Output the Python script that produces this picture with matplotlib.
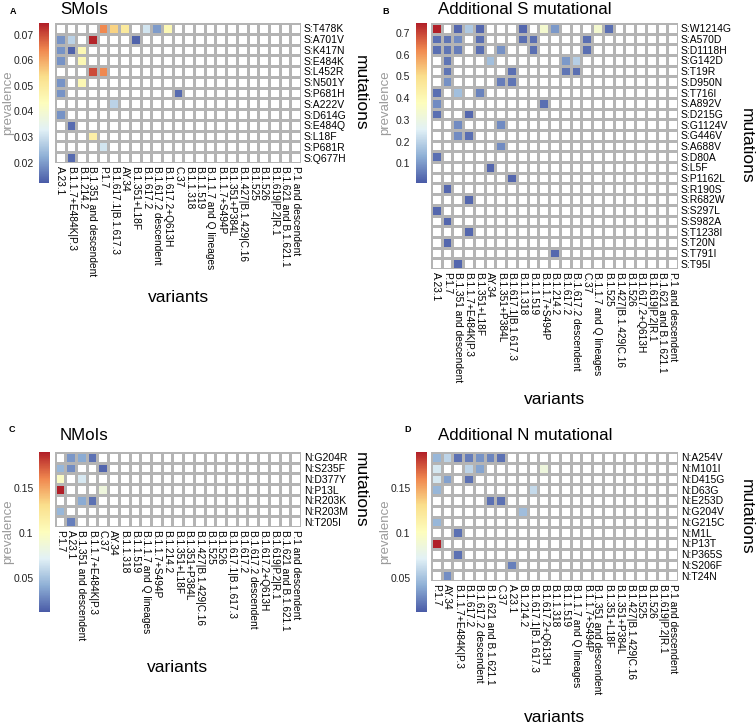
import numpy as np
import matplotlib
matplotlib.use("Agg")
import matplotlib.pyplot as plt
from matplotlib.colors import LinearSegmentedColormap, Normalize
from matplotlib.cm import ScalarMappable

plt.rcParams['font.family'] = ['Liberation Sans', 'DejaVu Sans']

# ---- data ----
smoi_rows = ["S:T478K", "S:A701V", "S:K417N", "S:E484K", "S:L452R", "S:N501Y", "S:P681H",
             "S:A222V", "S:D614G", "S:E484Q", "S:L18F", "S:P681R", "S:Q677H"]
smoi_cols = ["A.23.1", "B.1.1.7+E484K|P.3", "B.1.214.2", "B.1.351 and descendent", "P.1.7",
             "B.1.617.1|B.1.617.3", "AY.34", "B.1.351+L18F", "B.1.617.2", "B.1.617.2 descendent",
             "B.1.617.2+Q613H", "C.37", "B.1.1.318", "B.1.1.519", "B.1.1.7 and Q lineages",
             "B.1.1.7+S494P", "B.1.351+P384L", "B.1.427|B.1.429|C.16", "B.1.525", "B.1.526",
             "B.1.619|P.2|R.1", "B.1.621 and B.1.621.1", "P.1 and descendent"]
smoi_cells = [
    ("S:T478K", "P.1.7", 0.064), ("S:T478K", "B.1.617.1|B.1.617.3", 0.055),
    ("S:T478K", "AY.34", 0.050), ("S:T478K", "B.1.617.2", 0.031),
    ("S:T478K", "B.1.617.2 descendent", 0.020), ("S:T478K", "B.1.617.2+Q613H", 0.045),
    ("S:A701V", "A.23.1", 0.019), ("S:A701V", "B.1.1.7+E484K|P.3", 0.028),
    ("S:A701V", "B.1.351 and descendent", 0.074), ("S:A701V", "B.1.351+L18F", 0.013),
    ("S:K417N", "A.23.1", 0.019), ("S:K417N", "B.1.1.7+E484K|P.3", 0.013),
    ("S:K417N", "B.1.214.2", 0.045),
    ("S:E484K", "A.23.1", 0.019), ("S:E484K", "B.1.214.2", 0.045),
    ("S:L452R", "B.1.351 and descendent", 0.070), ("S:L452R", "P.1.7", 0.064),
    ("S:N501Y", "A.23.1", 0.019), ("S:N501Y", "B.1.214.2", 0.045),
    ("S:P681H", "A.23.1", 0.019), ("S:P681H", "C.37", 0.014),
    ("S:A222V", "B.1.617.1|B.1.617.3", 0.028),
    ("S:D614G", "A.23.1", 0.019),
    ("S:E484Q", "B.1.1.7+E484K|P.3", 0.014),
    ("S:L18F", "B.1.351 and descendent", 0.048),
    ("S:P681R", "P.1.7", 0.031),
    ("S:Q677H", "B.1.1.7+E484K|P.3", 0.014),
]

adds_rows = ["S:W1214G", "S:A570D", "S:D1118H", "S:G142D", "S:T19R", "S:D950N", "S:T716I",
             "S:A892V", "S:D215G", "S:G1124V", "S:G446V", "S:A688V", "S:D80A", "S:L5F",
             "S:P1162L", "S:R190S", "S:R682W", "S:S297L", "S:S982A", "S:T1238I", "S:T20N",
             "S:T791I", "S:T95I"]
adds_cols = ["A.23.1", "P.1.7", "B.1.351 and descendent", "B.1.1.7+E484K|P.3", "B.1.351+L18F",
             "AY.34", "B.1.351+P384L", "B.1.617.1|B.1.617.3", "B.1.1.318", "B.1.1.519",
             "B.1.1.7+S494P", "B.1.214.2", "B.1.617.2", "B.1.617.2 descendent", "C.37",
             "B.1.1.7 and Q lineages", "B.1.525", "B.1.427|B.1.429|C.16", "B.1.526",
             "B.1.617.2+Q613H", "B.1.619|P.2|R.1", "B.1.621 and B.1.621.1", "P.1 and descendent"]
adds_cells = [
    ("S:W1214G", "A.23.1", 0.744), ("S:W1214G", "B.1.351 and descendent", 0.03),
    ("S:W1214G", "B.1.1.7+E484K|P.3", 0.18), ("S:W1214G", "B.1.351+L18F", 0.03),
    ("S:W1214G", "B.1.1.318", 0.03), ("S:W1214G", "B.1.1.7+S494P", 0.34),
    ("S:W1214G", "B.1.214.2", 0.10), ("S:W1214G", "B.1.1.7 and Q lineages", 0.34),
    ("S:W1214G", "B.1.525", 0.04),
    ("S:A570D", "A.23.1", 0.04), ("S:A570D", "P.1.7", 0.05), ("S:A570D", "B.1.351 and descendent", 0.08),
    ("S:A570D", "B.1.351+L18F", 0.04), ("S:A570D", "B.1.1.318", 0.04), ("S:A570D", "B.1.1.519", 0.04),
    ("S:A570D", "C.37", 0.04),
    ("S:D1118H", "A.23.1", 0.04), ("S:D1118H", "P.1.7", 0.05), ("S:D1118H", "B.1.351 and descendent", 0.06),
    ("S:D1118H", "B.1.351+L18F", 0.04), ("S:D1118H", "B.1.351+P384L", 0.09), ("S:D1118H", "B.1.1.519", 0.04),
    ("S:D1118H", "C.37", 0.04),
    ("S:G142D", "P.1.7", 0.05), ("S:G142D", "AY.34", 0.16), ("S:G142D", "B.1.617.2", 0.10),
    ("S:G142D", "B.1.617.2 descendent", 0.19),
    ("S:T19R", "P.1.7", 0.05), ("S:T19R", "B.1.617.1|B.1.617.3", 0.04), ("S:T19R", "B.1.617.2", 0.05),
    ("S:T19R", "B.1.617.2 descendent", 0.04),
    ("S:D950N", "P.1.7", 0.09), ("S:D950N", "B.1.351+P384L", 0.06), ("S:D950N", "B.1.617.1|B.1.617.3", 0.05),
    ("S:T716I", "A.23.1", 0.04), ("S:T716I", "B.1.351 and descendent", 0.16), ("S:T716I", "B.1.351+L18F", 0.07),
    ("S:A892V", "A.23.1", 0.08), ("S:A892V", "B.1.1.7+S494P", 0.04),
    ("S:D215G", "A.23.1", 0.04), ("S:D215G", "B.1.1.7+E484K|P.3", 0.03),
    ("S:G1124V", "B.1.351 and descendent", 0.08), ("S:G1124V", "B.1.351+P384L", 0.08),
    ("S:G446V", "B.1.351 and descendent", 0.08), ("S:G446V", "B.1.1.7+E484K|P.3", 0.04),
    ("S:A688V", "B.1.351+P384L", 0.08),
    ("S:D80A", "A.23.1", 0.04),
    ("S:L5F", "AY.34", 0.03),
    ("S:P1162L", "B.1.617.1|B.1.617.3", 0.03),
    ("S:R190S", "P.1.7", 0.03),
    ("S:R682W", "B.1.1.7+E484K|P.3", 0.03),
    ("S:S297L", "A.23.1", 0.03),
    ("S:S982A", "P.1.7", 0.03),
    ("S:T1238I", "B.1.1.7+E484K|P.3", 0.03),
    ("S:T20N", "P.1.7", 0.03),
    ("S:T791I", "B.1.214.2", 0.03),
    ("S:T95I", "B.1.351 and descendent", 0.03),
]

nmoi_rows = ["N:G204R", "N:S235F", "N:D377Y", "N:P13L", "N:R203K", "N:R203M", "N:T205I"]
nmoi_cols = ["P.1.7", "A.23.1", "B.1.351 and descendent", "B.1.1.7+E484K|P.3", "C.37", "AY.34",
             "B.1.1.318", "B.1.1.519", "B.1.1.7 and Q lineages", "B.1.1.7+S494P", "B.1.214.2",
             "B.1.351+L18F", "B.1.351+P384L", "B.1.427|B.1.429|C.16", "B.1.525", "B.1.526",
             "B.1.617.1|B.1.617.3", "B.1.617.2", "B.1.617.2 descendent", "B.1.617.2+Q613H",
             "B.1.619|P.2|R.1", "B.1.621 and B.1.621.1", "P.1 and descendent"]
nmoi_cells = [
    ("N:G204R", "A.23.1", 0.033), ("N:G204R", "B.1.351 and descendent", 0.040),
    ("N:G204R", "B.1.1.7+E484K|P.3", 0.020),
    ("N:S235F", "P.1.7", 0.045), ("N:S235F", "A.23.1", 0.030), ("N:S235F", "C.37", 0.016),
    ("N:D377Y", "P.1.7", 0.097), ("N:D377Y", "B.1.351 and descendent", 0.068),
    ("N:P13L", "P.1.7", 0.190), ("N:P13L", "C.37", 0.085),
    ("N:R203K", "B.1.351 and descendent", 0.040), ("N:R203K", "B.1.1.7+E484K|P.3", 0.020),
    ("N:R203M", "P.1.7", 0.045),
    ("N:T205I", "A.23.1", 0.025),
]

addn_rows = ["N:A254V", "N:M101I", "N:D415G", "N:D63G", "N:E253D", "N:G204V", "N:G215C",
             "N:M1L", "N:P13T", "N:P365S", "N:S206F", "N:T24N"]
addn_cols = ["P.1.7", "AY.34", "B.1.1.7+E484K|P.3", "B.1.617.2", "B.1.617.2 descendent",
             "B.1.621 and B.1.621.1", "C.37", "A.23.1", "B.1.214.2", "B.1.617.1|B.1.617.3",
             "B.1.617.2+Q613H", "B.1.1.318", "B.1.1.519", "B.1.1.7 and Q lineages",
             "B.1.1.7+S494P", "B.1.351 and descendent", "B.1.351+L18F", "B.1.351+P384L",
             "B.1.427|B.1.429|C.16", "B.1.525", "B.1.526", "B.1.619|P.2|R.1", "P.1 and descendent"]
addn_cells = [
    ("N:A254V", "P.1.7", 0.045), ("N:A254V", "AY.34", 0.058), ("N:A254V", "B.1.1.7+E484K|P.3", 0.020),
    ("N:A254V", "B.1.617.2", 0.024), ("N:A254V", "B.1.617.2 descendent", 0.032),
    ("N:A254V", "B.1.621 and B.1.621.1", 0.027), ("N:A254V", "C.37", 0.020),
    ("N:M101I", "P.1.7", 0.067), ("N:M101I", "B.1.617.2", 0.058),
    ("N:M101I", "B.1.617.2 descendent", 0.038), ("N:M101I", "B.1.617.2+Q613H", 0.085),
    ("N:D415G", "P.1.7", 0.067), ("N:D415G", "AY.34", 0.037), ("N:D415G", "B.1.617.2", 0.020),
    ("N:D63G", "P.1.7", 0.045), ("N:D63G", "B.1.617.1|B.1.617.3", 0.061),
    ("N:E253D", "B.1.621 and B.1.621.1", 0.020), ("N:E253D", "C.37", 0.020),
    ("N:G204V", "B.1.214.2", 0.048),
    ("N:G215C", "P.1.7", 0.045),
    ("N:M1L", "B.1.1.7+E484K|P.3", 0.020),
    ("N:P13T", "P.1.7", 0.190),
    ("N:P365S", "B.1.1.7+E484K|P.3", 0.020),
    ("N:S206F", "A.23.1", 0.025),
    ("N:T24N", "AY.34", 0.030),
]

# ---- layout (pixels) ----
W, H = 756, 727
fig = plt.figure(figsize=(W / 100, H / 100), dpi=100)


def box(x0, y0, x1, y1):
    return [x0 / W, 1 - y1 / H, (x1 - x0) / W, (y1 - y0) / H]


cmap = LinearSegmentedColormap.from_list(
    "prev", ["#4a5ba7", "#8fb0d6", "#e2f1f6", "#fdfdbd", "#fadf8c", "#f0884f", "#b11f28"])
cmap.set_bad("white")


def draw_panel(letter, letter_xy, title, title_xy, rows, cols, cells, vmin, vmax, ticks,
               hm_box, cb_box, mut_x, var_y):
    mat = np.full((len(rows), len(cols)), np.nan)
    for r, c, v in cells:
        mat[rows.index(r), cols.index(c)] = v
    ax = fig.add_axes(box(*hm_box))
    ax.pcolormesh(np.ma.masked_invalid(mat), cmap=cmap, vmin=vmin, vmax=vmax,
                  edgecolors="#b4b4b4", linewidth=0.9)
    ax.set_xlim(0, len(cols))
    ax.set_ylim(len(rows), 0)
    for s in ax.spines.values():
        s.set_visible(False)
    ax.set_xticks(np.arange(len(cols)) + 0.5)
    ax.set_xticklabels(cols, rotation=270, fontsize=7.3, va="top", ha="center")
    ax.set_yticks(np.arange(len(rows)) + 0.5)
    ax.set_yticklabels(rows, fontsize=7.5)
    ax.yaxis.tick_right()
    ax.tick_params(length=0, pad=2)

    cax = fig.add_axes(box(*cb_box))
    cb = fig.colorbar(ScalarMappable(Normalize(vmin, vmax), cmap), cax=cax, ticks=ticks)
    cb.outline.set_visible(False)
    cax.yaxis.set_ticks_position("left")
    cax.tick_params(length=0, pad=4, labelsize=7.5, labelcolor="#222222")
    cax.set_yticklabels([f"{t:g}" for t in ticks])

    x0, y0, x1, y1 = hm_box
    cb_mid = (cb_box[1] + cb_box[3]) / 2
    fig.text((cb_box[0] - 31) / W, 1 - cb_mid / H, "prevalence", rotation=90,
             color="#9a9a9a", fontsize=9.5, ha="center", va="center")
    fig.text(mut_x / W, 1 - (y0 + y1) / 2 / H, "mutations", rotation=270,
             fontsize=12.5, ha="center", va="center")
    fig.text((x0 + x1) / 2 / W, 1 - var_y / H, "variants", fontsize=12.5, ha="center", va="center")
    fig.text(title_xy[0] / W, 1 - title_xy[1] / H, title, fontsize=12.2, ha="left", va="center")
    fig.text(letter_xy[0] / W, 1 - letter_xy[1] / H, letter, fontsize=6.5, fontweight="bold",
             ha="center", va="center")


draw_panel("A", (13.5, 11), "SMoIs", (60, 10), smoi_rows, smoi_cols, smoi_cells,
           0.012, 0.0745, [0.02, 0.03, 0.04, 0.05, 0.06, 0.07],
           (55, 23, 301, 163), (39, 23, 49.5, 183), 360, 298)
draw_panel("B", (386, 11), "Additional S mutational", (438, 10), adds_rows, adds_cols, adds_cells,
           0.01, 0.745, [0.1, 0.2, 0.3, 0.4, 0.5, 0.6, 0.7],
           (431, 23, 678, 269), (416, 23, 427, 183), 746, 399)
draw_panel("C", (11.5, 429), "NMoIs", (60, 436), nmoi_rows, nmoi_cols, nmoi_cells,
           0.012, 0.19, [0.05, 0.1, 0.15],
           (54.5, 452, 301, 527), (39, 452, 50, 612), 360, 668)
draw_panel("D", (408, 429), "Additional N mutational", (438, 436), addn_rows, addn_cols, addn_cells,
           0.012, 0.19, [0.05, 0.1, 0.15],
           (431, 452, 678, 581), (416, 452, 427, 612), 746, 717)

fig.savefig("out.png", dpi=100)
